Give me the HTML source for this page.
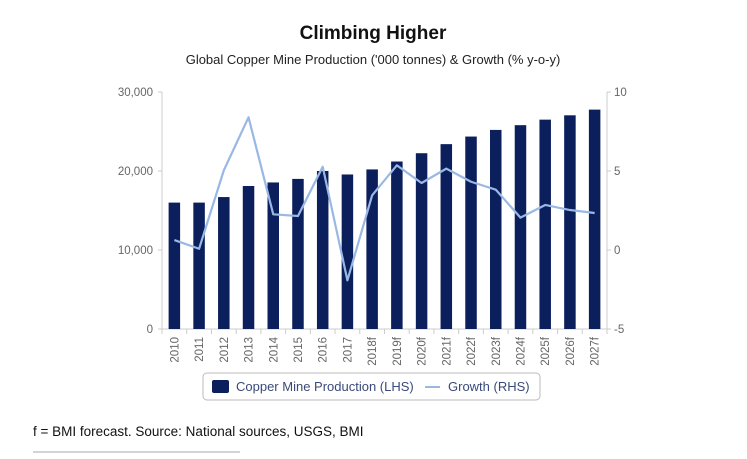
<!DOCTYPE html>
<html><head><meta charset="utf-8"><style>
body{margin:0;background:#fff;width:747px;height:454px;overflow:hidden;font-family:"Liberation Sans",sans-serif}
</style></head><body>
<svg width="747" height="454" font-family="Liberation Sans, sans-serif">
<text x="373" y="39" text-anchor="middle" font-size="19" font-weight="bold" fill="#111">Climbing Higher</text>
<text x="373" y="64" text-anchor="middle" font-size="13" fill="#222">Global Copper Mine Production ('000 tonnes) &amp; Growth (% y-o-y)</text>
<g id="plot"></g>
<g>
<rect x="203" y="373" width="337" height="27" rx="4" fill="#fff" stroke="#bbb"/>
<rect x="212" y="380" width="17" height="13" rx="2" fill="#0b1f5c"/>
<text x="236" y="391" font-size="13" fill="#3a4a7a">Copper Mine Production (LHS)</text>
<line x1="425" y1="387" x2="440" y2="387" stroke="#9ab8e4" stroke-width="2"/>
<text x="448" y="391" font-size="13" fill="#3a4a7a">Growth (RHS)</text>
</g>
<text x="33" y="436" font-size="13.5" fill="#111">f = BMI forecast. Source: National sources, USGS, BMI</text>
<line x1="33" y1="452" x2="240" y2="452" stroke="#aaa"/>
</svg>
<script>
const categories=["2010","2011","2012","2013","2014","2015","2016","2017","2018f","2019f","2020f","2021f","2022f","2023f","2024f","2025f","2026f","2027f"];
const production=[16000,16000,16700,18100,18550,19000,20000,19560,20200,21200,22250,23400,24360,25200,25800,26500,27050,27770];
const growth=[0.63,0.08,5.04,8.4,2.26,2.15,5.27,-1.92,3.46,5.36,4.24,5.15,4.32,3.82,2.05,2.85,2.53,2.34];
const leftTicks=[0,10000,20000,30000];
const rightTicks=[-5,0,5,10];
const NS="http://www.w3.org/2000/svg";
const g=document.getElementById('plot');
const L=162,R=607,T=92,B=329;
const yL=v=>B-(v/30000)*(B-T);
const yR=v=>B-((v+5)/15)*(B-T);
const bw=(R-L)/categories.length;
const xc=i=>L+bw*(i+0.5);
function mk(t,a){const e=document.createElementNS(NS,t);for(const k in a)e.setAttribute(k,a[k]);g.appendChild(e);return e;}
let e;
e=mk('line',{x1:L,y1:T,x2:L,y2:B,stroke:'#ccc'});


e=mk('line',{x1:R,y1:T,x2:R,y2:B,stroke:'#ccc'});


e=mk('line',{x1:L,y1:B,x2:R,y2:B,stroke:'#ccc'});


leftTicks.forEach(v=>{
 mk('line',{x1:L-4,y1:yL(v),x2:L,y2:yL(v),stroke:'#ccc'});
 e=mk('text',{x:L-9,y:yL(v)+4,'text-anchor':'end','font-size':11.5,fill:'#666'});
 e.textContent=v.toLocaleString('en-US');
 
 
});
rightTicks.forEach(v=>{
 mk('line',{x1:R,y1:yR(v),x2:R+4,y2:yR(v),stroke:'#ccc'});
 e=mk('text',{x:R+7,y:yR(v)+4,'font-size':11.5,fill:'#666'});
 e.textContent=v;
 
 
});
for(let i=0;i<=categories.length;i++)mk('line',{x1:L+bw*i,y1:B,x2:L+bw*i,y2:B+5,stroke:'#ccc'});
categories.forEach((c,i)=>{
 e=mk('rect',{x:xc(i)-5.75,y:yL(production[i]),width:11.5,height:B-yL(production[i]),fill:'#0b1f5c'});
 
 
 e=mk('text',{transform:`translate(${xc(i)+4},${B+8}) rotate(-90)`,'text-anchor':'end','font-size':11.5,fill:'#666'});
 e.textContent=c;
 
 
});
e=mk('polyline',{points:growth.map((v,i)=>xc(i)+','+yR(v)).join(' '),fill:'none',stroke:'#9ab8e4','stroke-width':2.2,'stroke-linejoin':'round'});


</script>
</body></html>
